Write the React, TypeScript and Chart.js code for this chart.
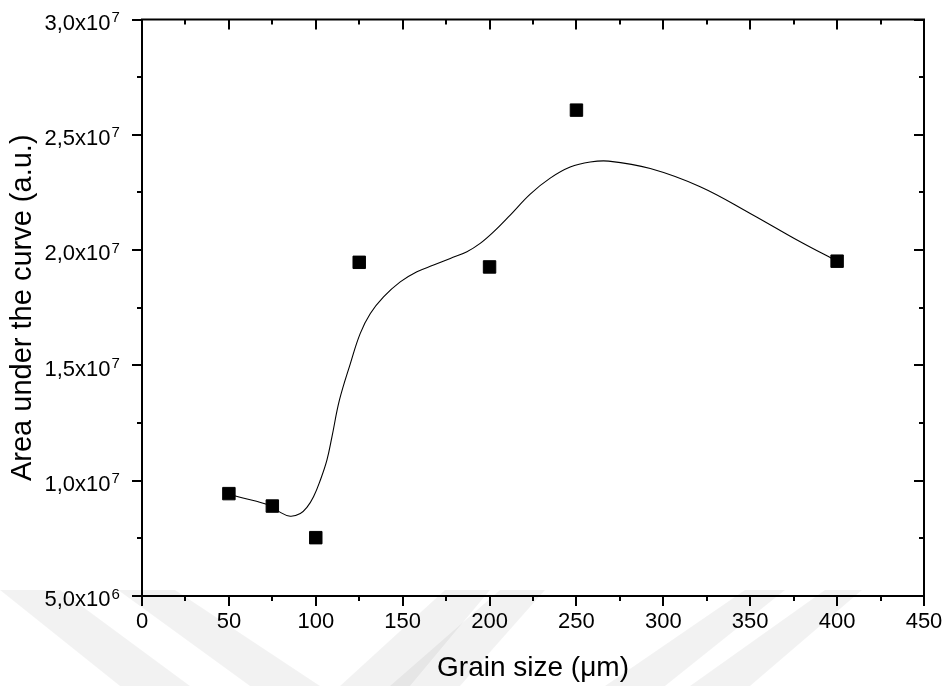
import React, { useEffect, useRef } from "react";
import { Chart, registerables } from "chart.js";

Chart.register(...registerables);

// Measured points
const grainSizes = [50, 75, 100, 125, 200, 250, 400];
const areaValues = [9.44e6, 8.9e6, 7.53e6, 1.947e7, 1.927e7, 2.607e7, 1.952e7];

// Smoothed curve
const curveX = [50, 53.7, 74.8, 78.6, 85.3, 91.1, 94.9, 98.7, 102.6, 106.4, 109.3, 113.6, 119.9, 125.6, 131.4, 139, 148.6, 158.2, 167.8, 177.4, 187, 194.6, 202.3, 211.9, 223.4, 234.9, 246.4, 257.9, 268.5, 292.5, 321.2, 350, 378.8, 400];
const curveY = [9.44e6, 9.34e6, 8.9e6, 8.67e6, 8.46e6, 8.58e6, 8.84e6, 9.3e6, 1.002e7, 1.089e7, 1.19e7, 1.349e7, 1.508e7, 1.639e7, 1.725e7, 1.797e7, 1.862e7, 1.906e7, 1.935e7, 1.964e7, 1.993e7, 2.029e7, 2.079e7, 2.152e7, 2.243e7, 2.312e7, 2.36e7, 2.382e7, 2.386e7, 2.354e7, 2.275e7, 2.159e7, 2.036e7, 1.952e7];

const xTitle = "Grain size (\u03bcm)";
const yTitle = "Area under the curve (a.u.)";
const xMin = 0, xMax = 450, xStep = 50;
const yMin = 5e6, yMax = 3e7, yStep = 5e6;

const FONT = '"Liberation Sans", Arial, Helvetica, sans-serif';

function sciParts(v: number): [string, string] {
  const exp = Math.floor(Math.log10(Math.abs(v)) + 1e-9);
  const mant = (v / Math.pow(10, exp)).toFixed(1).replace(".", ",");
  return [mant + "x10", String(exp)];
}

const watermark = {
  id: "watermark",
  beforeDraw(chart: any) {
    const ctx = chart.ctx;
    const top = 590, bot = 686;
    const bands = [
      [0, 60, 120, 190],
      [118, 175, 250, 320],
      [445, 490, 340, 410],
      [500, 545, 390, 460],
      [745, 785, 605, 665],
      [825, 862, 690, 750],
    ];
    ctx.save();
    ctx.fillStyle = "rgba(0,0,0,0.05)";
    bands.forEach(([t1, t2, b1, b2]) => {
      ctx.beginPath();
      ctx.moveTo(t1, top);
      ctx.lineTo(t2, top);
      ctx.lineTo(b2, bot);
      ctx.lineTo(b1, bot);
      ctx.closePath();
      ctx.fill();
    });
    ctx.restore();
  },
};

const frame = {
  id: "frame",
  afterDraw(chart: any) {
    const ctx = chart.ctx;
    const { left, right, top, bottom } = chart.chartArea;
    const xs = chart.scales.x;
    const ys = chart.scales.y;
    ctx.save();
    ctx.strokeStyle = "#000";
    ctx.lineWidth = 2;
    ctx.beginPath();
    ctx.moveTo(left - 1, top);
    ctx.lineTo(right + 1, top);
    ctx.moveTo(right, top);
    ctx.lineTo(right, bottom);
    for (let v = xMin; v <= xMax + 1e-6; v += xStep / 2) {
      const px = Math.round(xs.getPixelForValue(v));
      const major = Math.abs(v % xStep) < 1e-6;
      if (!major) {
        ctx.moveTo(px, bottom);
        ctx.lineTo(px, bottom + 5);
      }
      ctx.moveTo(px, top);
      ctx.lineTo(px, top + (major ? 10 : 5));
    }
    for (let v = yMin; v <= yMax + 1; v += yStep / 2) {
      const py = Math.round(ys.getPixelForValue(v));
      const r = (v - yMin) / yStep;
      const major = Math.abs(r - Math.round(r)) < 1e-6;
      if (!major) {
        ctx.moveTo(left - 5, py);
        ctx.lineTo(left, py);
      }
      ctx.moveTo(right, py);
      ctx.lineTo(right - (major ? 10 : 5), py);
    }
    ctx.stroke();

    // y tick labels with superscript exponent
    ctx.fillStyle = "#000";
    for (let v = yMin; v <= yMax + 1; v += yStep) {
      const py = ys.getPixelForValue(v);
      const [main, exp] = sciParts(v);
      const xr = left - 31.5;
      ctx.font = `22px ${FONT}`;
      ctx.textAlign = "right";
      ctx.textBaseline = "alphabetic";
      ctx.fillText(main, xr, py + 10.3);
      ctx.font = `15px ${FONT}`;
      ctx.textAlign = "left";
      ctx.fillText(exp, xr + 1, py + 2.6);
    }
    ctx.restore();
  },
};

export default function App() {
  const ref = useRef<HTMLCanvasElement | null>(null);
  useEffect(() => {
    if (!ref.current) return;
    const chart = new Chart(ref.current, {
      type: "scatter",
      data: {
        datasets: [
          {
            label: "Area",
            data: grainSizes.map((x, i) => ({ x, y: areaValues[i] })),
            pointStyle: "rect",
            pointRadius: 8.8,
            pointHoverRadius: 8.8,
            backgroundColor: "#000",
            borderColor: "#000",
            borderWidth: 1,
            showLine: false,
          },
          {
            label: "Fit",
            data: curveX.map((x, i) => ({ x, y: curveY[i] })),
            showLine: true,
            pointRadius: 0,
            borderColor: "#000",
            borderWidth: 1.1,
            tension: 0.4,
            fill: false,
          } as any,
        ],
      },
      options: {
        animation: false,
        responsive: false,
        layout: { padding: { left: 2, top: 19.5, right: 23, bottom: 0 } },
        plugins: { legend: { display: false }, tooltip: { enabled: false } },
        scales: {
          x: {
            type: "linear",
            min: xMin,
            max: xMax,
            afterFit: (s: any) => { s.height = 90; },
            ticks: { stepSize: xStep, color: "#000", font: { family: FONT, size: 22 }, padding: 3, maxRotation: 0 },
            grid: { display: true, drawOnChartArea: false, drawTicks: true, tickLength: 10, color: "#000", lineWidth: 2 },
            border: { display: true, color: "#000", width: 2 },
            title: { display: true, text: xTitle, color: "#000", font: { family: FONT, size: 28 }, padding: { top: 0, bottom: 1 } },
          },
          y: {
            type: "linear",
            min: yMin,
            max: yMax,
            afterFit: (s: any) => { s.width = 140; s.paddingTop = 0; s.paddingBottom = 0; },
            ticks: { stepSize: yStep, display: false },
            grid: { display: true, drawOnChartArea: false, drawTicks: true, tickLength: 10, color: "#000", lineWidth: 2 },
            border: { display: true, color: "#000", width: 2 },
            title: { display: true, text: yTitle, color: "#000", font: { family: FONT, size: 29 }, padding: { top: 4, bottom: 0 } },
          },
        },
      },
      plugins: [watermark, frame],
    });
    return () => chart.destroy();
  }, []);
  return (
    <div style={{ position: "fixed", left: 0, top: 0, width: 947, height: 686, background: "#fff" }}>
      <canvas ref={ref} width={947} height={686} style={{ display: "block" }} />
    </div>
  );
}
